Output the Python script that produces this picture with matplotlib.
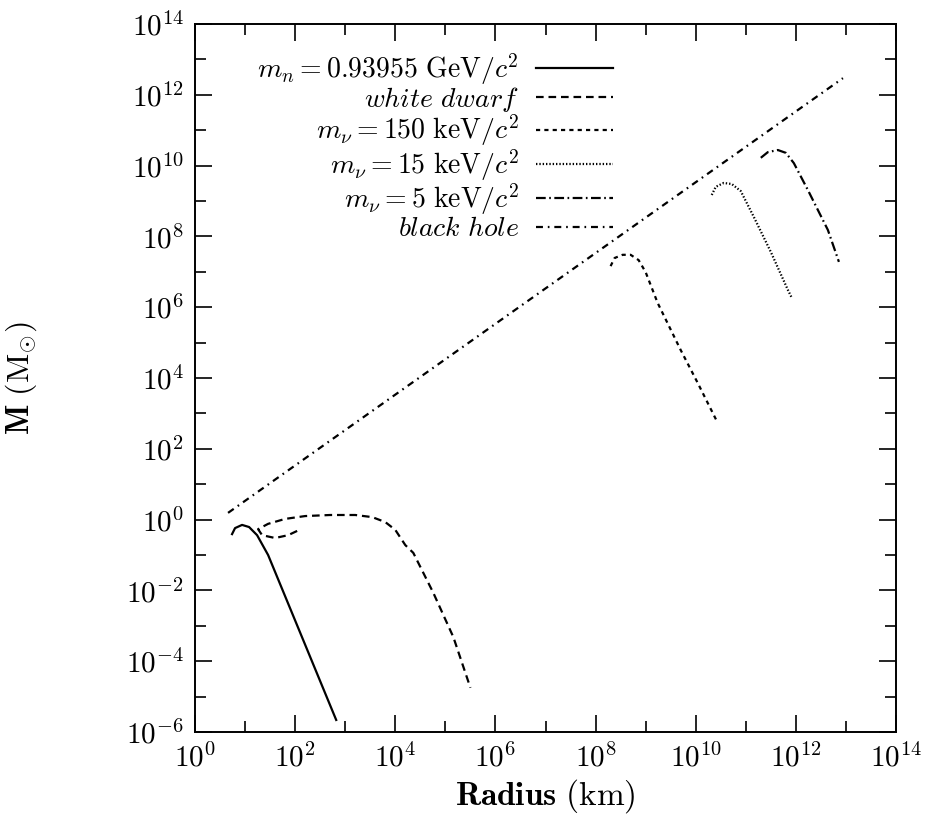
import matplotlib
matplotlib.use("Agg")
import matplotlib.pyplot as plt
import numpy as np
from matplotlib.ticker import FixedLocator, FuncFormatter, NullFormatter

plt.rcParams.update({
    "mathtext.fontset": "cm",
    "font.family": "serif",
    "font.serif": ["DejaVu Serif"],
    "lines.scale_dashes": False,
    "axes.unicode_minus": True,
})

# log10(radius / km), log10(mass / Msun)
ns_logr = [0.74, 0.80, 0.94, 1.08, 1.24, 1.46, 2.82]
ns_logm = [-0.41, -0.24, -0.15, -0.21, -0.44, -1.00, -5.66]

wd_logr = [2.04, 1.86, 1.60, 1.34, 1.26, 1.46, 1.80, 2.20, 2.70, 3.20,
           3.54, 3.80, 4.00, 4.20, 4.36, 4.76, 5.16, 5.50]
wd_logm = [-0.32, -0.44, -0.52, -0.44, -0.27, -0.12, 0.02, 0.10, 0.13, 0.13,
           0.07, -0.07, -0.29, -0.72, -0.94, -2.07, -3.32, -4.75]

nu150_logr = [8.30, 8.38, 8.54, 8.70, 8.86, 9.00, 9.24, 9.70, 10.04, 10.44]
nu150_logm = [7.16, 7.39, 7.48, 7.48, 7.33, 6.99, 6.12, 4.79, 3.86, 2.73]

nu15_logr = [10.32, 10.40, 10.56, 10.72, 10.90, 11.16, 11.50, 11.84, 11.92]
nu15_logm = [9.17, 9.40, 9.51, 9.48, 9.28, 8.55, 7.56, 6.49, 6.26]

nu5_logr = [11.30, 11.44, 11.64, 11.80, 11.96, 12.24, 12.64, 12.86]
nu5_logm = [10.22, 10.38, 10.44, 10.36, 10.07, 9.31, 8.18, 7.28]

bh_logr = [0.66, 12.94]
bh_logm = [0.19, 12.47]

labels = [r"$m_n = 0.93955\ \mathrm{GeV}/c^2$",
          r"$white\ dwarf$",
          r"$m_\nu = 150\ \mathrm{keV}/c^2$",
          r"$m_\nu = 15\ \mathrm{keV}/c^2$",
          r"$m_\nu = 5\ \mathrm{keV}/c^2$",
          r"$black\ hole$"]

curves = [(ns_logr, ns_logm, "-"),
          (wd_logr, wd_logm, (0, (5.5, 3.5))),
          (nu150_logr, nu150_logm, (0, (3.0, 3.0))),
          (nu15_logr, nu15_logm, (0, (1.0, 1.4))),
          (nu5_logr, nu5_logm, (0, (7.0, 2.5, 1.2, 2.5))),
          (bh_logr, bh_logm, (0, (5.0, 3.5, 1.2, 3.5)))]

fig = plt.figure(figsize=(9.27, 8.17), dpi=100)
ax = fig.add_axes([195 / 927, 1 - 732 / 817, 701 / 927, 708 / 817])

for (lr, lm, ls), lab in zip(curves, labels):
    ax.plot(10 ** np.array(lr), 10 ** np.array(lm), ls=ls, color="black",
            lw=1.6, label=lab)

ax.set_xscale("log")
ax.set_yscale("log")
ax.set_xlim(1e0, 1e14)
ax.set_ylim(1e-6, 1e14)

fmt = FuncFormatter(lambda v, p: r"$\mathrm{10^{%d}}$" % round(np.log10(v)))
ax.xaxis.set_major_locator(FixedLocator([10.0 ** k for k in range(0, 15, 2)]))
ax.xaxis.set_minor_locator(FixedLocator([10.0 ** k for k in range(1, 14, 2)]))
ax.yaxis.set_major_locator(FixedLocator([10.0 ** k for k in range(-6, 15, 2)]))
ax.yaxis.set_minor_locator(FixedLocator([10.0 ** k for k in range(-5, 14, 2)]))
ax.xaxis.set_major_formatter(fmt)
ax.yaxis.set_major_formatter(fmt)
ax.xaxis.set_minor_formatter(NullFormatter())
ax.yaxis.set_minor_formatter(NullFormatter())
ax.tick_params(which="both", direction="in", top=True, right=True,
               labelsize=21, width=1.2)
ax.tick_params(which="major", length=12, pad=8)
ax.tick_params(which="minor", length=8)
for s in ax.spines.values():
    s.set_linewidth(1.4)

ax.set_xlabel(r"$\mathbf{Radius}\ \mathrm{(km)}$", fontsize=24)
ax.set_ylabel(r"$\mathbf{M}\ (\mathrm{M}_{\odot})$", fontsize=23)
ax.xaxis.set_label_coords(0.5, -0.064)
ax.yaxis.set_label_coords(-0.222, 0.5)

ax.legend(loc="upper right", bbox_to_anchor=(0.597, 0.962), frameon=False,
          markerfirst=False, handlelength=2.8, handletextpad=0.6,
          labelspacing=-0.05, borderpad=0, borderaxespad=0, fontsize=20)

fig.savefig("out.png", dpi=100)
